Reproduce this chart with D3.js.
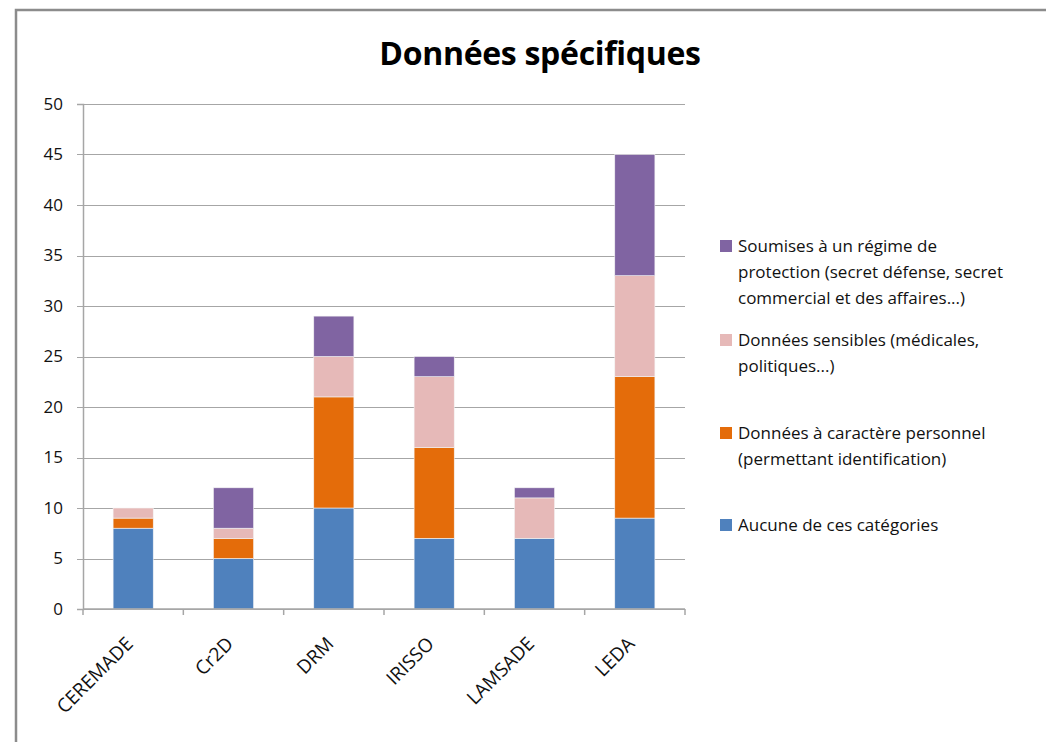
<!DOCTYPE html>
<html>
<head>
<meta charset="utf-8">
<script src="https://cdn.jsdelivr.net/npm/d3@7"></script>
<style>
  body { margin: 0; background: #fff; }
  text { font-family: "Open Sans", "Liberation Sans", sans-serif; fill: #111; }
</style>
</head>
<body>
<div id="container"></div>
<script>
var width = 1046;
var height = 742;
var margin = {left: 83, right: 361, top: 104, bottom: 133};
var plotWidth = width - margin.left - margin.right;
var plotHeight = height - margin.top - margin.bottom;

var labs = ["CEREMADE", "Cr2D", "DRM", "IRISSO", "LAMSADE", "LEDA"];
var aucune = [8, 5, 10, 7, 7, 9];
var personnel = [1, 2, 11, 9, 0, 14];
var sensibles = [1, 1, 4, 7, 4, 10];
var soumises = [0, 4, 4, 2, 1, 12];
var yTicks = [0, 5, 10, 15, 20, 25, 30, 35, 40, 45, 50];

var colors = ["#4f81bd", "#e46c0a", "#e6b9b8", "#8064a2"];
// legend lines, top to bottom
var legendLines = [
    ["Soumises à un régime de", "protection (secret défense, secret", "commercial et des affaires...)"],
    ["Données sensibles (médicales,", "politiques...)"],
    ["Données à caractère personnel", "(permettant identification)"],
    ["Aucune de ces catégories"]
];
var legendY = [246, 340, 433, 525];

var rows = labs.map(function(d, i){
    return {lab: d, s0: aucune[i], s1: personnel[i], s2: sensibles[i], s3: soumises[i]};
});
var stack = d3.stack().keys(["s0", "s1", "s2", "s3"]);
var layers = stack(rows);

var svg = d3.select('#container').append('svg').attr('width', width).attr('height', height);

// outer frame (only top and left edges visible)
svg.append('path')
    .attr('d', 'M16,' + height + 'V10H' + width)
    .attr('fill', 'none').attr('stroke', '#8c8c8c').attr('stroke-width', 2.5);

svg.append('text')
    .attr('x', 540).attr('y', 65)
    .attr('text-anchor', 'middle')
    .attr('font-size', '32px').attr('font-weight', 'bold')
    .attr('letter-spacing', '-0.3')
    .style('fill', '#000')
    .text('Données spécifiques');

var xScale = d3.scaleBand().domain(labs).range([0, plotWidth]).paddingInner(0.6).paddingOuter(0.3);
var yScale = d3.scaleLinear().domain([0, 50]).range([plotHeight, 0]);

var chartGroup = svg.append('g').attr('transform', 'translate(' + margin.left + ',' + margin.top + ')');

// gridlines
chartGroup.append('g').selectAll('line')
    .data(yTicks)
    .enter().append('line')
    .attr('x1', -6).attr('x2', plotWidth)
    .attr('y1', function(d){ return Math.round(yScale(d)) + 0.5; })
    .attr('y2', function(d){ return Math.round(yScale(d)) + 0.5; })
    .attr('stroke', '#a6a6a6').attr('stroke-width', 1.2);

// y axis
var yAxis = chartGroup.append('g')
    .call(d3.axisLeft(yScale).tickValues(yTicks).tickSize(6).tickPadding(14));
yAxis.select('.domain').attr('stroke', '#a6a6a6').attr('stroke-width', 1.5);
yAxis.selectAll('.tick line').remove();
yAxis.selectAll('text').attr('font-size', '17px').style('font-family', '"Open Sans", sans-serif');

// bars
chartGroup.selectAll('g.layer')
    .data(layers)
    .enter().append('g')
    .attr('class', 'layer')
    .attr('fill', function(d, i){ return colors[i]; })
    .selectAll('rect')
    .data(function(d){ return d; })
    .enter().append('rect')
    .attr('x', function(d){ return xScale(d.data.lab); })
    .attr('width', xScale.bandwidth())
    .attr('y', function(d){ return yScale(d[1]); })
    .attr('height', function(d){ return yScale(d[0]) - yScale(d[1]); })
    .attr('stroke', '#f4f4f4').attr('stroke-width', 0.6);

// x axis
var xAxis = chartGroup.append('g')
    .attr('transform', 'translate(0,' + plotHeight + ')');
xAxis.append('line')
    .attr('x1', 0).attr('x2', plotWidth)
    .attr('stroke', '#a6a6a6').attr('stroke-width', 1.5);
var step = plotWidth / labs.length;
xAxis.selectAll('line.tk')
    .data(d3.range(labs.length + 1))
    .enter().append('line')
    .attr('class', 'tk')
    .attr('x1', function(d){ return d * step; })
    .attr('x2', function(d){ return d * step; })
    .attr('y1', 0).attr('y2', 6)
    .attr('stroke', '#a6a6a6').attr('stroke-width', 1.5);
xAxis.selectAll('text')
    .data(labs)
    .enter().append('text')
    .attr('text-anchor', 'end')
    .attr('font-size', '19px')
    .attr('transform', function(d){
        var cx = xScale(d) + xScale.bandwidth() / 2 + 1;
        return 'translate(' + cx + ',36) rotate(-45)';
    })
    .text(function(d){ return d; });

// legend
var legend = svg.append('g').selectAll('g')
    .data(legendLines)
    .enter().append('g')
    .attr('transform', function(d, i){ return 'translate(720,' + legendY[i] + ')'; });
legend.append('rect')
    .attr('x', 0).attr('y', -6)
    .attr('width', 12).attr('height', 12)
    .attr('fill', function(d, i){ return colors[3 - i]; });
legend.each(function(lines){
    d3.select(this).selectAll('text')
        .data(lines)
        .enter().append('text')
        .attr('x', 18)
        .attr('y', function(d, j){ return j * 26 + 6; })
        .attr('font-size', '17px')
        .text(function(d){ return d; });
});
</script>
</body>
</html>
